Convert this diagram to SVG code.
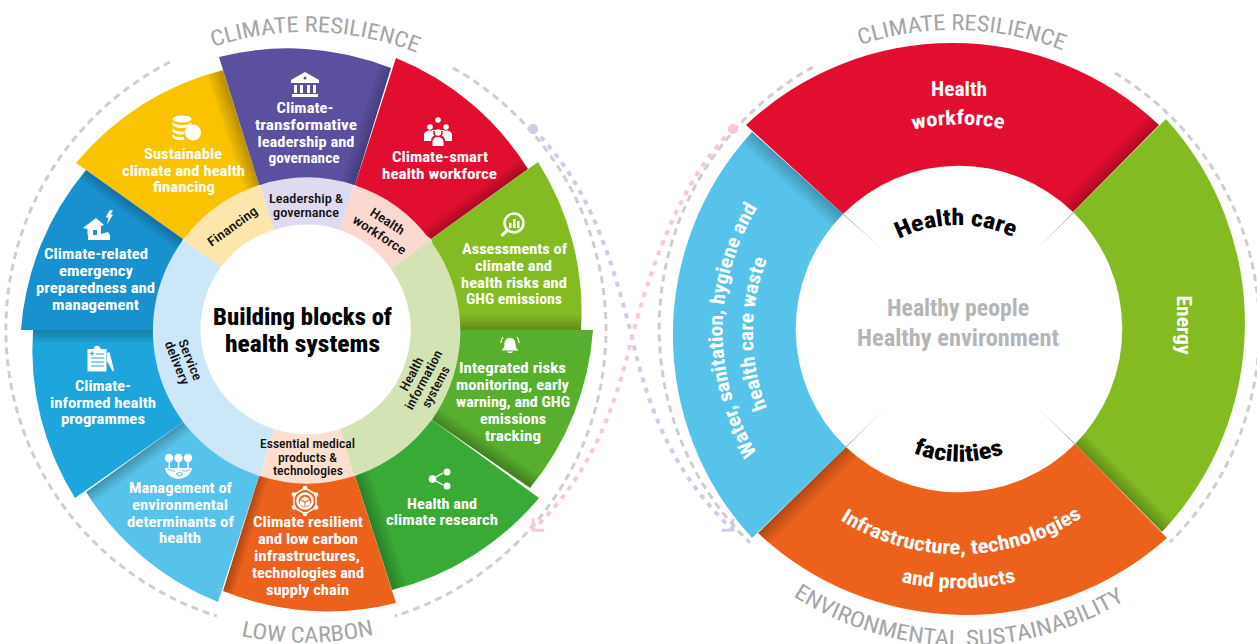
<svg xmlns="http://www.w3.org/2000/svg" width="1257" height="644" viewBox="0 0 1257 644">
<style>
text{font-family:"Roboto","Liberation Sans",sans-serif;font-stretch:condensed}
.w{fill:#fff;font-weight:700;font-size:15px;text-anchor:middle}
.k{fill:#111;font-weight:500;font-size:13px;text-anchor:middle}
.c{fill:#000;font-weight:800;font-size:23px;text-anchor:middle}
.g{fill:#b4b5b7;font-weight:700;font-size:24px;text-anchor:middle}
.r{fill:#fff;font-weight:700;font-size:20px;text-anchor:middle}
.t{fill:#a3a5a8;font-weight:400;font-size:22px}
.i{fill:#fff}
.dg{fill:none;stroke:#cdced0;stroke-width:3;stroke-dasharray:7 5}
.dp{fill:none;stroke:#cfcbe8;stroke-width:4;stroke-dasharray:5 6}
.dk{fill:none;stroke:#f6c8dc;stroke-width:4;stroke-dasharray:5 6}
</style>
<defs>
<linearGradient id="s"><stop offset="0" stop-color="#000" stop-opacity=".25"/><stop offset="1" stop-color="#000" stop-opacity="0"/></linearGradient>
<linearGradient id="sa" href="#s" gradientUnits="userSpaceOnUse" x1="259" y1="185" x2="244" y2="190"/>
<linearGradient id="sb" href="#s" gradientUnits="userSpaceOnUse" x1="355" y1="185" x2="340" y2="180"/>
<linearGradient id="sc" href="#s" gradientUnits="userSpaceOnUse" x1="431" y1="239" x2="423" y2="228"/>
<linearGradient id="sd" href="#s" gradientUnits="userSpaceOnUse" x1="459" y1="330" x2="459" y2="314"/>
<linearGradient id="se" href="#s" gradientUnits="userSpaceOnUse" x1="432" y1="420" x2="440" y2="408"/>
<linearGradient id="sf" href="#s" gradientUnits="userSpaceOnUse" x1="355" y1="476" x2="370" y2="471"/>
<linearGradient id="sg" href="#s" gradientUnits="userSpaceOnUse" x1="259" y1="476" x2="269" y2="479"/>
<linearGradient id="sh" href="#s" gradientUnits="userSpaceOnUse" x1="183" y1="422" x2="191" y2="433"/>
<linearGradient id="si" href="#s" gradientUnits="userSpaceOnUse" x1="155" y1="330" x2="155" y2="344"/>
<linearGradient id="sj" href="#s" gradientUnits="userSpaceOnUse" x1="183" y1="239" x2="175" y2="250"/>
<linearGradient id="sk" href="#s" gradientUnits="userSpaceOnUse" x1="843" y1="214" x2="831" y2="227"/>
<linearGradient id="sl" href="#s" gradientUnits="userSpaceOnUse" x1="1073" y1="212" x2="1062" y2="201"/>
<linearGradient id="sm" href="#s" gradientUnits="userSpaceOnUse" x1="1075" y1="444" x2="1086" y2="433"/>
<linearGradient id="sn" href="#s" gradientUnits="userSpaceOnUse" x1="846" y1="447" x2="857" y2="458"/>
<linearGradient id="t1" gradientUnits="userSpaceOnUse" x1="843" y1="214" x2="881" y2="248"><stop offset="0" stop-color="#999"/><stop offset="1" stop-color="#ddd" stop-opacity=".3"/></linearGradient>
<linearGradient id="t2" gradientUnits="userSpaceOnUse" x1="1073" y1="213" x2="1037" y2="249"><stop offset="0" stop-color="#999"/><stop offset="1" stop-color="#ddd" stop-opacity=".3"/></linearGradient>
<linearGradient id="t3" gradientUnits="userSpaceOnUse" x1="846" y1="447" x2="883" y2="411"><stop offset="0" stop-color="#999"/><stop offset="1" stop-color="#ddd" stop-opacity=".3"/></linearGradient>
<linearGradient id="t4" gradientUnits="userSpaceOnUse" x1="1075" y1="444" x2="1038" y2="408"><stop offset="0" stop-color="#999"/><stop offset="1" stop-color="#ddd" stop-opacity=".3"/></linearGradient>
<path id="pY" d="M76,163A280,280 0 0 1 223,70L259,185L183,239Z"/>
<path id="pP" d="M219,57A280,280 0 0 1 391,68L355,185L259,185Z"/>
<path id="pR" d="M396,58A280,280 0 0 1 528,169L431,239L355,185Z"/>
<path id="pG1" d="M538,162A280,280 0 0 1 581,330L459,330L431,239Z"/>
<path id="pG2" d="M593,330A280,280 0 0 1 530,488L432,420L459,330Z"/>
<path id="pG3" d="M539,498A280,280 0 0 1 392,590L355,476L432,420Z"/>
<path id="pO" d="M396,603A280,280 0 0 1 223,591L259,476L355,476Z"/>
<path id="pL" d="M218,602A280,280 0 0 1 86,492L183,422L259,476Z"/>
<path id="pB2" d="M75,498A280,280 0 0 1 33,330L155,330L183,422Z"/>
<path id="pB1" d="M21,330A280,280 0 0 1 86,170L183,239L155,330Z"/>
<path id="qR" d="M746,125A301,301 0 0 1 1159,125L1073,212A163.5,163.5 0 0 0 843,214Z"/>
<path id="qG" d="M1166,119A304,304 0 0 1 1162,532L1075,444A163.5,163.5 0 0 0 1073,212Z"/>
<path id="qO" d="M1167,538A303,303 0 0 1 758,533L846,447A163.5,163.5 0 0 0 1075,444Z"/>
<path id="qB" d="M752,538A300,300 0 0 1 752,132L843,214A163.5,163.5 0 0 0 846,447Z"/>
<clipPath id="cY"><use href="#pY"/></clipPath>
<clipPath id="cP"><use href="#pP"/></clipPath>
<clipPath id="cR"><use href="#pR"/></clipPath>
<clipPath id="cG1"><use href="#pG1"/></clipPath>
<clipPath id="cG2"><use href="#pG2"/></clipPath>
<clipPath id="cG3"><use href="#pG3"/></clipPath>
<clipPath id="cO"><use href="#pO"/></clipPath>
<clipPath id="cL"><use href="#pL"/></clipPath>
<clipPath id="cB2"><use href="#pB2"/></clipPath>
<clipPath id="cB1"><use href="#pB1"/></clipPath>
<clipPath id="dR"><use href="#qR"/></clipPath>
<clipPath id="dG"><use href="#qG"/></clipPath>
<clipPath id="dO"><use href="#qO"/></clipPath>
<clipPath id="dB"><use href="#qB"/></clipPath>
<marker id="mp" viewBox="-12 -12 16 24" refX="0" refY="0" markerWidth="16" markerHeight="24" markerUnits="userSpaceOnUse" orient="auto"><polyline points="-8,-8 0,0 -8,8" fill="none" stroke="#cfcbe8" stroke-width="3"/></marker>
<marker id="mk" viewBox="-12 -12 16 24" refX="0" refY="0" markerWidth="16" markerHeight="24" markerUnits="userSpaceOnUse" orient="auto"><polyline points="-8,-8 0,0 -8,8" fill="none" stroke="#f6c8dc" stroke-width="3"/></marker>
<path id="a1" d="M213,47A298,298 0 0 1 417,53"/>
<path id="a2" d="M241,636A313,313 0 0 0 373,635"/>
<path id="a3" d="M860,45A299,299 0 0 1 1064,51"/>
<path id="a4" d="M793,596A313,313 0 0 0 1127,599"/>
<path id="a5" d="M899,239A132,132 0 0 1 1017,239"/>
<path id="a6" d="M913,453A130,130 0 0 0 1006,453"/>
<path id="a7" d="M913,130A203,203 0 0 1 1003,129"/>
<path id="a8" d="M840,520A224,224 0 0 0 1078,520"/>
<path id="a9" d="M901,582A259,259 0 0 0 1015,582"/>
<path id="a10" d="M757,453A234,234 0 0 1 758,207"/>
<path id="a11" d="M767,408A203,203 0 0 1 768,257"/>
</defs>

<g id="connectors">
<path class="dg" d="M170,62A300,300 0 0 0 217,616"/>
<path class="dg" d="M453,68A300,300 0 0 1 395,616"/>
<path class="dg" d="M813,67A299,299 0 0 0 750,543"/>
<path class="dg" d="M1115,73A299,299 0 0 1 1170,542"/>
<path class="dp" d="M533,129C590,185 612,260 632,337C650,420 680,480 733,530" marker-end="url(#mp)"/>
<path class="dk" d="M733,129C680,180 650,270 632,337C615,410 590,475 533,530" marker-end="url(#mk)"/>
<circle cx="533" cy="129" r="5" fill="#cfcbe8"/>
<circle cx="733" cy="129" r="5" fill="#f6c8dc"/>
</g>

<g id="seg-financing">
<use href="#pY" fill="#f9c300"/>
<polygon clip-path="url(#cY)" fill="url(#sa)" points="259,185 223,70 208,75 244,190"/>
<g class="i"><ellipse cx="182" cy="119" rx="9.500" ry="3.500"/><path d="M172.500,122v3c2,4 17,4 19,0v-3c-2,4 -17,4 -19,0zM172.500,128v3c1,3 8,4 11,3.500l2,-3c-5,.5 -11,0 -13,-3.500zM172.500,134v3c1,3 8,3.500 12,3l-1,-3c-4,.5 -9,0 -11,-3z"/><circle cx="193" cy="132.500" r="8"/></g>
<text class="w" x="183" y="159" textLength="78" lengthAdjust="spacingAndGlyphs">Sustainable</text>
<text class="w" x="183.500" y="176" textLength="123" lengthAdjust="spacingAndGlyphs">climate and health</text>
<text class="w" x="184" y="192" textLength="62" lengthAdjust="spacingAndGlyphs">financing</text>
</g>

<g id="seg-leadership">
<use href="#pP" fill="#5b4f9f"/>
<polygon clip-path="url(#cP)" fill="url(#sb)" points="355,185 391,68 376,63 340,180"/>
<g class="i"><path d="M305,72L319,80V83H291V80Z"/><rect x="294" y="85" width="3" height="8"/><rect x="300" y="85" width="3" height="8"/><rect x="307" y="85" width="3" height="8"/><rect x="313" y="85" width="3" height="8"/><rect x="292" y="94" width="26" height="3"/></g>
<circle cx="305" cy="78" r="1.500" fill="#5b4f9f"/>
<text class="w" x="305" y="113" textLength="57" lengthAdjust="spacingAndGlyphs">Climate-</text>
<text class="w" x="306" y="130" textLength="102" lengthAdjust="spacingAndGlyphs">transformative</text>
<text class="w" x="306" y="147" textLength="97" lengthAdjust="spacingAndGlyphs">leadership and</text>
<text class="w" x="304" y="163" textLength="71" lengthAdjust="spacingAndGlyphs">governance</text>
</g>

<g id="seg-workforce">
<use href="#pR" fill="#e20e2f"/>
<polygon clip-path="url(#cR)" fill="url(#sc)" points="431,239 528,169 520,158 423,228"/>
<g class="i"><circle cx="438" cy="120" r="2.800"/><circle cx="430" cy="127" r="2.800"/><circle cx="446" cy="127" r="2.800"/><circle cx="438" cy="132.500" r="3.200"/><path d="M432,130h12v1h-2.500c-2,-1 -5,-1 -7,0h-2.500zM424,141v-6c0,-3 3,-4.500 6,-4.500c1.500,0 3,.5 3.500,1.500c-.5,2 0,3 1,3.500c-2,1 -3.500,2.500 -3.500,5.500zM452,141v-6c0,-3 -3,-4.500 -6,-4.500c-1.500,0 -3,.5 -3.500,1.500c.5,2 0,3 -1,3.500c2,1 3.500,2.500 3.500,5.500zM432.500,146v-4c0,-3 2.500,-5 5.500,-5s5.500,2 5.500,5v4z"/></g>
<text class="w" x="440" y="162" textLength="96" lengthAdjust="spacingAndGlyphs">Climate-smart</text>
<text class="w" x="439.500" y="179" textLength="115" lengthAdjust="spacingAndGlyphs">health workforce</text>
</g>

<g id="seg-assessments">
<use href="#pG1" fill="#84bb22"/>
<polygon clip-path="url(#cG1)" fill="url(#sd)" points="459,330 581,330 581,314 459,314"/>
<circle cx="514" cy="223" r="9.500" fill="none" stroke="#fff" stroke-width="2.500"/>
<g class="i"><rect x="509" y="223" width="2.500" height="5"/><rect x="513" y="219" width="2.500" height="9"/><rect x="517" y="221" width="2.500" height="7"/><path d="M506.500,228.500L500.500,235L502.500,237L509,231Z"/></g>
<text class="w" x="514.500" y="254" textLength="105" lengthAdjust="spacingAndGlyphs">Assessments of</text>
<text class="w" x="513.500" y="271" textLength="77" lengthAdjust="spacingAndGlyphs">climate and</text>
<text class="w" x="514" y="288" textLength="106" lengthAdjust="spacingAndGlyphs">health risks and</text>
<text class="w" x="514" y="304" textLength="96" lengthAdjust="spacingAndGlyphs">GHG emissions</text>
</g>

<g id="seg-monitoring">
<use href="#pG2" fill="#58ae2d"/>
<polygon clip-path="url(#cG2)" fill="url(#se)" points="432,420 530,488 538,476 440,408"/>
<g class="i"><path d="M510,338c4,0 5.500,3 5.500,6c0,3 1,5 3,6.500h-17c2,-1.500 3,-3.500 3,-6.500c0,-3 1.500,-6 5.500,-6zM507,351.500h6c-.5,2 -5.500,2 -6,0z"/></g>
<path d="M503,337c-1.500,2 -2,4 -2,6M517,337c1.500,2 2,4 2,6" fill="none" stroke="#fff" stroke-width="1.200"/>
<text class="w" x="512.500" y="373" textLength="107" lengthAdjust="spacingAndGlyphs">Integrated risks</text>
<text class="w" x="512.500" y="390" textLength="113" lengthAdjust="spacingAndGlyphs">monitoring, early</text>
<text class="w" x="513" y="407" textLength="114" lengthAdjust="spacingAndGlyphs">warning, and GHG</text>
<text class="w" x="513" y="424" textLength="66" lengthAdjust="spacingAndGlyphs">emissions</text>
<text class="w" x="513" y="441" textLength="56" lengthAdjust="spacingAndGlyphs">tracking</text>
</g>

<g id="seg-research">
<use href="#pG3" fill="#3aaa36"/>
<polygon clip-path="url(#cG3)" fill="url(#sf)" points="355,476 392,590 407,585 370,471"/>
<g class="i"><circle cx="432.500" cy="479" r="3.800"/><circle cx="447" cy="472" r="3.500"/><circle cx="447" cy="486" r="3.500"/></g>
<path d="M436,477L443,473M436,481L443,485" stroke="#fff" stroke-width="1.300"/>
<text class="w" x="442" y="509" textLength="70" lengthAdjust="spacingAndGlyphs">Health and</text>
<text class="w" x="442" y="525" textLength="112" lengthAdjust="spacingAndGlyphs">climate research</text>
</g>

<g id="seg-infrastructure">
<use href="#pO" fill="#ec611c"/>
<polygon clip-path="url(#cO)" fill="url(#sg)" points="259,476 223,591 233,594 269,479"/>
<polygon points="305,488 316,494.500 316,507.500 305,514 294,507.500 294,494.500" fill="none" stroke="#fff" stroke-width="1.500"/>
<circle cx="305" cy="501" r="7.500" fill="none" stroke="#fff" stroke-width="2.500"/>
<g class="i"><circle cx="305" cy="488" r="2.300"/><circle cx="316" cy="494.500" r="2.300"/><circle cx="316" cy="507.500" r="2.300"/><circle cx="305" cy="514" r="2.300"/><circle cx="294" cy="507.500" r="2.300"/><circle cx="294" cy="494.500" r="2.300"/><path d="M305,496.500L309.500,499L305,501.500L300.500,499ZM300,500L304.500,502.500V507L300,504.500ZM310,500L305.500,502.500V507L310,504.500Z"/></g>
<text class="w" x="308" y="527" textLength="110" lengthAdjust="spacingAndGlyphs">Climate resilient</text>
<text class="w" x="308" y="544" textLength="100" lengthAdjust="spacingAndGlyphs">and low carbon</text>
<text class="w" x="307" y="561" textLength="106" lengthAdjust="spacingAndGlyphs">infrastructures,</text>
<text class="w" x="308" y="578" textLength="112" lengthAdjust="spacingAndGlyphs">technologies and</text>
<text class="w" x="307.500" y="595" textLength="83" lengthAdjust="spacingAndGlyphs">supply chain</text>
</g>

<g id="seg-determinants">
<use href="#pL" fill="#58c3ea"/>
<polygon clip-path="url(#cL)" fill="url(#sh)" points="183,422 86,492 94,503 191,433"/>
<g class="i"><circle cx="169" cy="458" r="4.200"/><circle cx="178.500" cy="458" r="4.200"/><circle cx="188" cy="458" r="4.200"/><rect x="168.500" y="460" width="1.400" height="9"/><rect x="177.800" y="460" width="1.400" height="8"/><rect x="187.300" y="460" width="1.400" height="9"/><path d="M165,468H192C191,475 184,479 178.500,479C173,479 166,475 165,468Z"/></g>
<path d="M167,470c3,-1.500 5,2 8,1M176,474l4,-2l3,2l-3,2zM182,470c2,2 5,1 8,0" fill="none" stroke="#58c3ea" stroke-width="1"/>
<text class="w" x="180.500" y="493" textLength="103" lengthAdjust="spacingAndGlyphs">Management of</text>
<text class="w" x="180" y="510" textLength="96" lengthAdjust="spacingAndGlyphs">environmental</text>
<text class="w" x="180.500" y="527" textLength="107" lengthAdjust="spacingAndGlyphs">determinants of</text>
<text class="w" x="180" y="543" textLength="42" lengthAdjust="spacingAndGlyphs">health</text>
</g>

<g id="seg-programmes">
<use href="#pB2" fill="#1ea5dc"/>
<polygon clip-path="url(#cB2)" fill="url(#si)" points="155,330 33,330 33,344 155,344"/>
<g class="i"><path d="M87.500,349H93.500C94,344.500 100,344.500 100.500,349H106.500V371.500H87.500Z"/><path d="M107,353L109.500,352L114,370L113,372L107,361Z"/></g>
<path d="M90,353.500H94M92,351.500V355.500M96,354H104M91,358H104M91,362H104M91,366H104" stroke="#1ea5dc" stroke-width="1.200" fill="none"/>
<text class="w" x="103" y="391" textLength="56" lengthAdjust="spacingAndGlyphs">Climate-</text>
<text class="w" x="103" y="408" textLength="106" lengthAdjust="spacingAndGlyphs">informed health</text>
<text class="w" x="103" y="424" textLength="84" lengthAdjust="spacingAndGlyphs">programmes</text>
</g>

<g id="seg-emergency">
<use href="#pB1" fill="#1a91cf"/>
<polygon clip-path="url(#cB1)" fill="url(#sj)" points="183,239 86,170 78,181 175,250"/>
<g class="i"><path d="M83,228L96,218L104,225L101,226V234L108,232L110,235V240H88V235H87.500V229Z"/><path d="M110,210L105.500,217.500H108.500L107,224.500L113,214.500H110.500L113,210.500Z"/></g>
<path d="M93,230H97V235H93Z" fill="#1a91cf"/>
<text class="w" x="96" y="259" textLength="104" lengthAdjust="spacingAndGlyphs">Climate-related</text>
<text class="w" x="96" y="276" textLength="74" lengthAdjust="spacingAndGlyphs">emergency</text>
<text class="w" x="95.500" y="293" textLength="119" lengthAdjust="spacingAndGlyphs">preparedness and</text>
<text class="w" x="95.500" y="310" textLength="87" lengthAdjust="spacingAndGlyphs">management</text>
</g>

<g id="ring-service"><path fill="#cbe7f8" d="M260,476A152,152 0 0 1 183,240L221,267A104.500,104.500 0 0 0 274,429Z"/>
<text class="k" transform="translate(186,361.500) rotate(68)" textLength="43" lengthAdjust="spacingAndGlyphs">Service</text>
<text class="k" transform="translate(173,364.500) rotate(68)" textLength="46" lengthAdjust="spacingAndGlyphs">delivery</text></g>
<g id="ring-financing"><path fill="#fce6ab" d="M183,240A152,152 0 0 1 260,185L274,230A104.500,104.500 0 0 0 221,267Z"/>
<text class="k" transform="translate(235,230) rotate(-36)" textLength="58" lengthAdjust="spacingAndGlyphs">Financing</text></g>
<g id="ring-leadership"><path fill="#dfdaef" d="M260,185A152,152 0 0 1 354,185L340,230A104.500,104.500 0 0 0 274,230Z"/>
<text class="k" x="306" y="203" textLength="74" lengthAdjust="spacingAndGlyphs">Leadership &amp;</text>
<text class="k" x="306" y="217" textLength="66" lengthAdjust="spacingAndGlyphs">governance</text></g>
<g id="ring-workforce"><path fill="#fbd9d0" d="M354,185A152,152 0 0 1 430,240L391,269A104.500,104.500 0 0 0 340,230Z"/>
<text class="k" transform="translate(385,225) rotate(33)" textLength="38" lengthAdjust="spacingAndGlyphs">Health</text>
<text class="k" transform="translate(377,238.500) rotate(33)" textLength="61" lengthAdjust="spacingAndGlyphs">workforce</text></g>
<g id="ring-information"><path fill="#d4e3b4" d="M430,240A152,152 0 0 1 354,476L340,429A104.500,104.500 0 0 0 391,269Z"/>
<text class="k" transform="translate(415.500,376) rotate(-62)" textLength="36" lengthAdjust="spacingAndGlyphs">Health</text>
<text class="k" transform="translate(427.500,382) rotate(-62)" textLength="65" lengthAdjust="spacingAndGlyphs">information</text>
<text class="k" transform="translate(439.500,389) rotate(-62)" textLength="45" lengthAdjust="spacingAndGlyphs">systems</text></g>
<g id="ring-products"><path fill="#fddfcf" d="M354,476A152,152 0 0 1 260,476L274,429A104.500,104.500 0 0 0 340,429Z"/>
<text class="k" x="307.500" y="448" textLength="95" lengthAdjust="spacingAndGlyphs">Essential medical</text>
<text class="k" x="307.500" y="462" textLength="59" lengthAdjust="spacingAndGlyphs">products &amp;</text>
<text class="k" x="308" y="475" textLength="70" lengthAdjust="spacingAndGlyphs">technologies</text></g>

<g id="center-left">
<text class="c" x="302.500" y="325" textLength="179" lengthAdjust="spacingAndGlyphs">Building blocks of</text>
<text class="c" x="302.500" y="352" textLength="155" lengthAdjust="spacingAndGlyphs">health systems</text>
</g>

<g id="titles-left">
<text class="t"><textPath href="#a1" textLength="208" lengthAdjust="spacingAndGlyphs">CLIMATE RESILIENCE</textPath></text>
<text class="t"><textPath href="#a2" textLength="134" lengthAdjust="spacingAndGlyphs">LOW CARBON</textPath></text>
</g>

<g id="wedge-workforce">
<use href="#qR" fill="#e20e2f"/>
<polygon clip-path="url(#dR)" fill="url(#sl)" points="1073,212 1159,125 1148,114 1062,201"/>
<text class="r" x="959" y="96" textLength="56" lengthAdjust="spacingAndGlyphs">Health</text>
<text class="r" style="text-anchor:start"><textPath href="#a7" textLength="91" lengthAdjust="spacingAndGlyphs">workforce</textPath></text>
</g>
<g id="wedge-energy">
<use href="#qG" fill="#84bb22"/>
<polygon clip-path="url(#dG)" fill="url(#sm)" points="1075,444 1162,532 1173,521 1086,433"/>
<text class="r" transform="translate(1177,325) rotate(90)" textLength="59" lengthAdjust="spacingAndGlyphs">Energy</text>
</g>
<g id="wedge-infrastructure">
<use href="#qO" fill="#ec611c"/>
<polygon clip-path="url(#dO)" fill="url(#sn)" points="846,447 758,533 769,544 857,458"/>
<text class="r" style="text-anchor:start"><textPath href="#a8" textLength="256" lengthAdjust="spacingAndGlyphs">Infrastructure, technologies</textPath></text>
<text class="r" style="text-anchor:start"><textPath href="#a9" textLength="116" lengthAdjust="spacingAndGlyphs">and products</textPath></text>
</g>
<g id="wedge-water">
<use href="#qB" fill="#58c3ea"/>
<polygon clip-path="url(#dB)" fill="url(#sk)" points="843,214 746,125 734,138 831,227"/>
<text class="r" style="text-anchor:start"><textPath href="#a10" textLength="258" lengthAdjust="spacingAndGlyphs">Water, sanitation, hygiene and</textPath></text>
<text class="r" style="text-anchor:start"><textPath href="#a11" textLength="152" lengthAdjust="spacingAndGlyphs">health care waste</textPath></text>
</g>

<g id="center-right">
<path d="M843,214L881,248" stroke="url(#t1)" fill="none"/>
<path d="M1073,213L1037,249" stroke="url(#t2)" fill="none"/>
<path d="M846,447L883,411" stroke="url(#t3)" fill="none"/>
<path d="M1075,444L1038,408" stroke="url(#t4)" fill="none"/>
<text class="c" style="text-anchor:start"><textPath href="#a5" textLength="118" lengthAdjust="spacingAndGlyphs">Health care</textPath></text>
<text class="c" style="text-anchor:start"><textPath href="#a6" textLength="93" lengthAdjust="spacingAndGlyphs">facilities</textPath></text>
<text class="g" x="958" y="316" textLength="142" lengthAdjust="spacingAndGlyphs">Healthy people</text>
<text class="g" x="958" y="346" textLength="202" lengthAdjust="spacingAndGlyphs">Healthy environment</text>
</g>

<g id="titles-right">
<text class="t"><textPath href="#a3" textLength="207" lengthAdjust="spacingAndGlyphs">CLIMATE RESILIENCE</textPath></text>
<text class="t"><textPath href="#a4" textLength="350" lengthAdjust="spacingAndGlyphs">ENVIRONMENTAL SUSTAINABILITY</textPath></text>
</g>
</svg>
